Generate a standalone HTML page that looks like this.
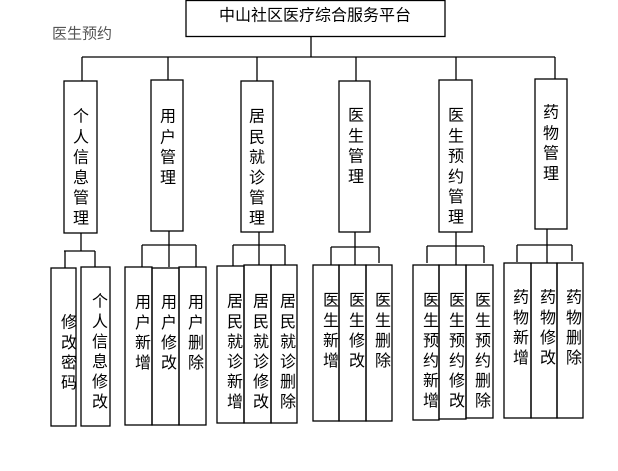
<!DOCTYPE html>
<html><head><meta charset="utf-8"><style>
html,body{margin:0;padding:0;background:#fff;width:618px;height:471px;overflow:hidden}
svg{display:block}
text{font-family:"Liberation Sans","Noto Sans CJK SC","WenQuanYi Zen Hei",sans-serif;font-size:16px;fill:#000;text-anchor:middle;dominant-baseline:central}
</style></head><body>
<svg width="618" height="471" viewBox="0 0 618 471" xmlns="http://www.w3.org/2000/svg">
<g fill="none" stroke="#000" stroke-width="1.3">
<rect x="186" y="0.5" width="259" height="36"/>
<path d="M311 36V57M82 57H555M82 57V81M168 57V80M257 57V81M356 57V81M456 57V80M555 57V79"/>
<rect x="64" y="81" width="33" height="152"/>
<rect x="151" y="80" width="32" height="151"/>
<rect x="241" y="81" width="32" height="151"/>
<rect x="339" y="81" width="31" height="151"/>
<rect x="439" y="80" width="33" height="152"/>
<rect x="535" y="79" width="32" height="150"/>
<!-- group1 -->
<path d="M81 233V251M64 251H95M65 251V268M95 251V267"/>
<rect x="51" y="268" width="25" height="158"/>
<rect x="81" y="267" width="29" height="159"/>
<!-- group2 -->
<path d="M169 231V245M142 245H196M142 245V267M169 245V267M196 245V267"/>
<rect x="125" y="267" width="27" height="158"/><rect x="152" y="268" width="27" height="157"/><rect x="179" y="267" width="27" height="158"/>
<!-- group3 -->
<path d="M259 232V245M233 245H285M233 245V266M259 245V265M285 245V265"/>
<rect x="217" y="266" width="27" height="157"/><rect x="244" y="265" width="27" height="158"/><rect x="271" y="265" width="26" height="158"/>
<!-- group4 -->
<path d="M355 232V247M331 247H379M331 247V265M355 247V265M379 247V263"/>
<rect x="313" y="265" width="26" height="156"/><rect x="339" y="265" width="27" height="156"/><rect x="366" y="265" width="26" height="156"/>
<!-- group5 -->
<path d="M456 232V246M427 246H484M427 246V263M456 246V265M484 246V263"/>
<rect x="413" y="265" width="26" height="155"/><rect x="439" y="265" width="27" height="154"/><rect x="466" y="265" width="27" height="153"/>
<!-- group6 -->
<path d="M547 229V245M517 245H572M517 245V262M547 245V263M572 245V261"/>
<rect x="504" y="263" width="27" height="155"/><rect x="531" y="263" width="26" height="155"/><rect x="557" y="263" width="26" height="155"/>
</g>
<text x="315" y="16" style="font-size:16px">中山社区医疗综合服务平台</text>
<text x="82" y="34" style="fill:#555;font-size:15px">医生预约</text>
<text x="81" y="117">个<tspan x="81" dy="20.3">人</tspan><tspan x="81" dy="20.3">信</tspan><tspan x="81" dy="20.3">息</tspan><tspan x="81" dy="20.3">管</tspan><tspan x="81" dy="20.3">理</tspan></text>
<text x="168" y="117">用<tspan x="168" dy="20.3">户</tspan><tspan x="168" dy="20.3">管</tspan><tspan x="168" dy="20.3">理</tspan></text>
<text x="257" y="117">居<tspan x="257" dy="20.3">民</tspan><tspan x="257" dy="20.3">就</tspan><tspan x="257" dy="20.3">诊</tspan><tspan x="257" dy="20.3">管</tspan><tspan x="257" dy="20.3">理</tspan></text>
<text x="356" y="116">医<tspan x="356" dy="20.3">生</tspan><tspan x="356" dy="20.3">管</tspan><tspan x="356" dy="20.3">理</tspan></text>
<text x="456" y="116">医<tspan x="456" dy="20.3">生</tspan><tspan x="456" dy="20.3">预</tspan><tspan x="456" dy="20.3">约</tspan><tspan x="456" dy="20.3">管</tspan><tspan x="456" dy="20.3">理</tspan></text>
<text x="551" y="113">药<tspan x="551" dy="20.3">物</tspan><tspan x="551" dy="20.3">管</tspan><tspan x="551" dy="20.3">理</tspan></text>

<text x="69" y="323">修<tspan x="69" dy="20">改</tspan><tspan x="69" dy="20">密</tspan><tspan x="69" dy="20">码</tspan></text>
<text x="100" y="302">个<tspan x="100" dy="20">人</tspan><tspan x="100" dy="20">信</tspan><tspan x="100" dy="20">息</tspan><tspan x="100" dy="20">修</tspan><tspan x="100" dy="20">改</tspan></text>

<text x="143" y="303">用<tspan x="143" dy="20">户</tspan><tspan x="143" dy="20">新</tspan><tspan x="143" dy="20">增</tspan></text>
<text x="169" y="303">用<tspan x="169" dy="20">户</tspan><tspan x="169" dy="20">修</tspan><tspan x="169" dy="20">改</tspan></text>
<text x="196" y="303">用<tspan x="196" dy="20">户</tspan><tspan x="196" dy="20">删</tspan><tspan x="196" dy="20">除</tspan></text>

<text x="235" y="302">居<tspan x="235" dy="20">民</tspan><tspan x="235" dy="20">就</tspan><tspan x="235" dy="20">诊</tspan><tspan x="235" dy="20">新</tspan><tspan x="235" dy="20">增</tspan></text>
<text x="261" y="302">居<tspan x="261" dy="20">民</tspan><tspan x="261" dy="20">就</tspan><tspan x="261" dy="20">诊</tspan><tspan x="261" dy="20">修</tspan><tspan x="261" dy="20">改</tspan></text>
<text x="288" y="302">居<tspan x="288" dy="20">民</tspan><tspan x="288" dy="20">就</tspan><tspan x="288" dy="20">诊</tspan><tspan x="288" dy="20">删</tspan><tspan x="288" dy="20">除</tspan></text>

<text x="331" y="301">医<tspan x="331" dy="20">生</tspan><tspan x="331" dy="20">新</tspan><tspan x="331" dy="20">增</tspan></text>
<text x="357" y="301">医<tspan x="357" dy="20">生</tspan><tspan x="357" dy="20">修</tspan><tspan x="357" dy="20">改</tspan></text>
<text x="383" y="301">医<tspan x="383" dy="20">生</tspan><tspan x="383" dy="20">删</tspan><tspan x="383" dy="20">除</tspan></text>

<text x="431" y="301">医<tspan x="431" dy="20">生</tspan><tspan x="431" dy="20">预</tspan><tspan x="431" dy="20">约</tspan><tspan x="431" dy="20">新</tspan><tspan x="431" dy="20">增</tspan></text>
<text x="457" y="301">医<tspan x="457" dy="20">生</tspan><tspan x="457" dy="20">预</tspan><tspan x="457" dy="20">约</tspan><tspan x="457" dy="20">修</tspan><tspan x="457" dy="20">改</tspan></text>
<text x="483" y="301">医<tspan x="483" dy="20">生</tspan><tspan x="483" dy="20">预</tspan><tspan x="483" dy="20">约</tspan><tspan x="483" dy="20">删</tspan><tspan x="483" dy="20">除</tspan></text>

<text x="521" y="298">药<tspan x="521" dy="20">物</tspan><tspan x="521" dy="20">新</tspan><tspan x="521" dy="20">增</tspan></text>
<text x="548" y="298">药<tspan x="548" dy="20">物</tspan><tspan x="548" dy="20">修</tspan><tspan x="548" dy="20">改</tspan></text>
<text x="574" y="298">药<tspan x="574" dy="20">物</tspan><tspan x="574" dy="20">删</tspan><tspan x="574" dy="20">除</tspan></text>
</svg>
</body></html>
